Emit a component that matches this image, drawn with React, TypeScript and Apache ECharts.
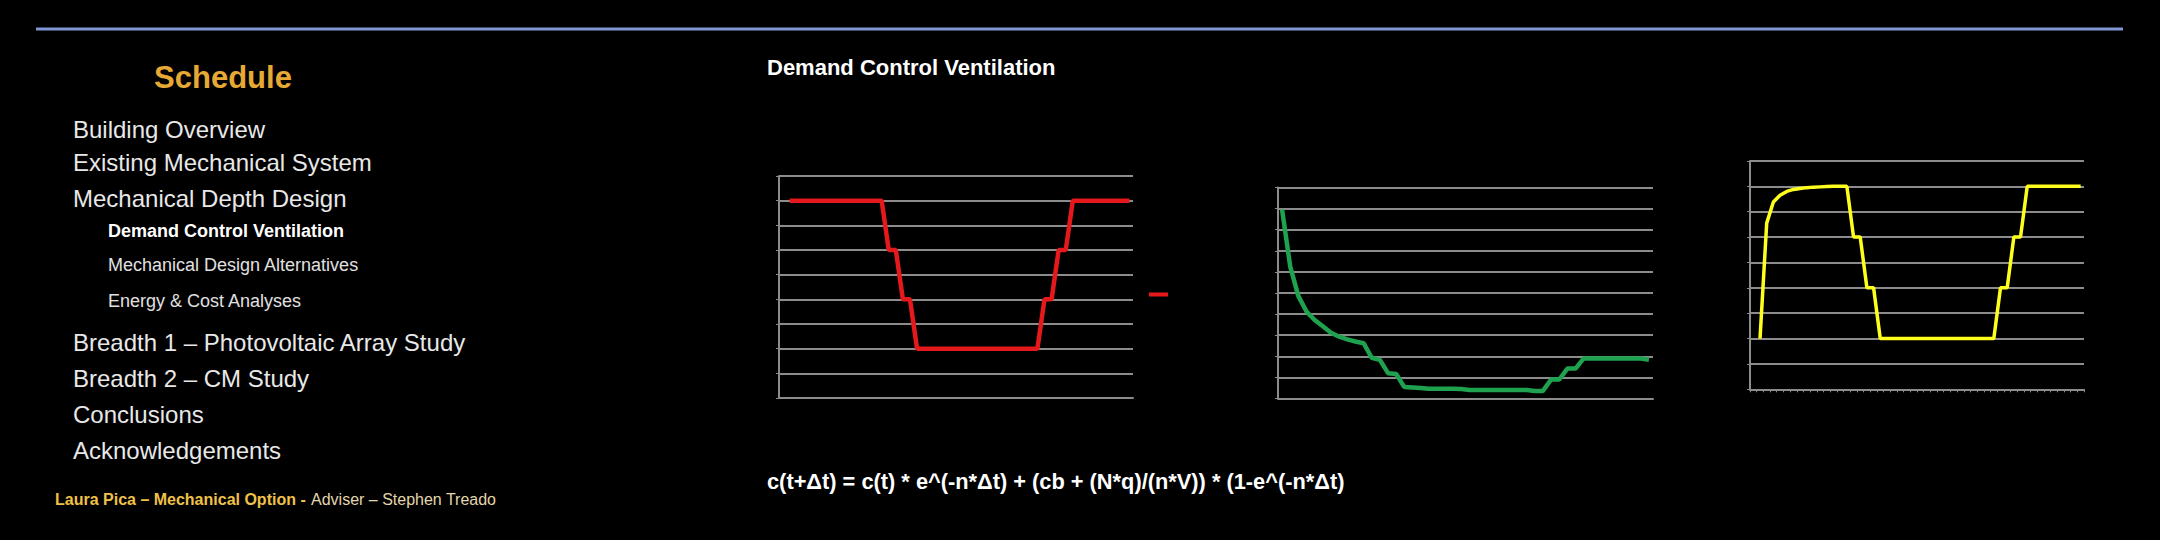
import React, { useEffect, useRef } from "react";
import * as echarts from "echarts";

// ---------- data ----------
// 50 time slots for the schedule charts (first slot is empty in the source chart)
const scheduleSlots: string[] = [
  "", "1", "2", "3", "4", "5", "6", "7", "8", "9", "10", "11", "12", "13", "14", "15", "16", "17", "18", "19",
  "20", "21", "22", "23", "24", "25", "26", "27", "28", "29", "30", "31", "32", "33", "34", "35", "36", "37", "38", "39",
  "40", "41", "42", "43", "44", "45", "46", "47", "48", "49",
];
// occupancy schedule (red)
const occupancy: (number | string)[] = [
  "-",
  8, 8, 8, 8, 8, 8, 8, 8, 8, 8, 8, 8, 8, 8,
  6, 6, 4, 4,
  2, 2, 2, 2, 2, 2, 2, 2, 2, 2, 2, 2, 2, 2, 2, 2, 2, 2,
  4, 4, 6, 6,
  8, 8, 8, 8, 8, 8, 8, 8, 8,
];
// CO2 concentration response (green), 46 slots
const co2Slots: string[] = [
  "1", "2", "3", "4", "5", "6", "7", "8", "9", "10", "11", "12", "13", "14", "15", "16", "17", "18", "19", "20",
  "21", "22", "23", "24", "25", "26", "27", "28", "29", "30", "31", "32", "33", "34", "35", "36", "37", "38", "39", "40",
  "41", "42", "43", "44", "45", "46",
];
const co2: number[] = [
  8.96, 6.25, 4.85, 4.12, 3.72, 3.42, 3.12, 2.93, 2.8, 2.7, 2.62, 1.93, 1.83, 1.2, 1.16, 0.54,
  0.52, 0.5, 0.46, 0.46, 0.46, 0.46, 0.45, 0.4, 0.4, 0.4, 0.4, 0.4, 0.4, 0.4, 0.4, 0.36, 0.36,
  0.9, 0.9, 1.42, 1.42, 1.9, 1.9, 1.9, 1.9, 1.9, 1.9, 1.9, 1.9, 1.84,
];
// ventilation rate (yellow)
const ventilation: (number | string)[] = [
  "-",
  2, 6.55, 7.38, 7.65, 7.8, 7.88, 7.92, 7.95, 7.97, 7.98, 7.99, 8, 8, 8,
  6, 6, 4, 4,
  2, 2, 2, 2, 2, 2, 2, 2, 2, 2, 2, 2, 2, 2, 2, 2, 2, 2,
  4, 4, 6, 6,
  8, 8, 8, 8, 8, 8, 8, 8, 8,
];

const menuMain1 = ["Building Overview", "Existing Mechanical System", "Mechanical Depth Design"];
const menuSub = ["Demand Control Ventilation", "Mechanical Design Alternatives", "Energy & Cost Analyses"];
const menuMain2 = ["Breadth 1 – Photovoltaic Array Study", "Breadth 2 – CM Study", "Conclusions", "Acknowledgements"];
const slideTitle = "Schedule";
const chartTitle = "Demand Control Ventilation";
const formula = "c(t+\u0394t) = c(t) * e^(-n*\u0394t) + (cb + (N*q)/(n*V)) * (1-e^(-n*\u0394t)";
const footerBold = "Laura Pica – Mechanical Option - ";
const footerLight = "Adviser – Stephen Treado";

const FONT = '"Liberation Sans", Arial, sans-serif';
const GRID_COLOR = "#8c8c8c";

function makeXAxis(gridIndex: number, data: string[], ticks: boolean) {
  return {
    type: "category",
    gridIndex,
    data,
    boundaryGap: true,
    axisLine: { show: true, lineStyle: { color: GRID_COLOR, width: 2 } },
    axisTick: { show: ticks, interval: 0, length: 3, lineStyle: { color: GRID_COLOR, width: 1 } },
    axisLabel: { show: false },
    splitLine: { show: false },
  };
}
function makeYAxis(gridIndex: number, max: number) {
  return {
    type: "value",
    gridIndex,
    min: 0,
    max,
    interval: 1,
    axisLine: { show: true, lineStyle: { color: GRID_COLOR, width: 2 } },
    axisTick: { show: true, length: 3, lineStyle: { color: GRID_COLOR, width: 1 } },
    axisLabel: { show: false },
    splitLine: { show: true, lineStyle: { color: GRID_COLOR, width: 2 } },
  };
}

export default function App() {
  const ref = useRef<HTMLDivElement>(null);
  useEffect(() => {
    document.body.style.margin = "0";
    document.body.style.background = "#000";
    document.body.style.overflow = "hidden";
    const chart = echarts.init(ref.current!, undefined, { renderer: "svg" });

    const graphics: any[] = [
      { type: "rect", shape: { x: 36, y: 27.5, width: 2087, height: 3 }, style: { fill: "#8197d3" } },
      {
        type: "text", x: 223, y: 77,
        style: { text: slideTitle, fill: "#e6a934", font: `bold 31px ${FONT}`, textAlign: "center", textVerticalAlign: "middle" },
      },
      {
        type: "text", x: 767, y: 67.5,
        style: { text: chartTitle, fill: "#ffffff", font: `bold 22px ${FONT}`, textAlign: "left", textVerticalAlign: "middle" },
      },
      {
        type: "text", x: 767, y: 481,
        style: { text: formula, fill: "#ffffff", font: `bold 21.8px ${FONT}`, textAlign: "left", textVerticalAlign: "middle" },
      },
      { type: "rect", shape: { x: 1149, y: 292.5, width: 19, height: 4 }, style: { fill: "#e5191b" } },
    ];
    const mainY1 = [129.5, 162.5, 198.5];
    menuMain1.forEach((t, i) =>
      graphics.push({
        type: "text", x: 73, y: mainY1[i],
        style: { text: t, fill: "#e8e8e8", font: `24px ${FONT}`, textVerticalAlign: "middle" },
      })
    );
    const subY = [231, 265, 301];
    menuSub.forEach((t, i) =>
      graphics.push({
        type: "text", x: 108, y: subY[i],
        style: {
          text: t,
          fill: i === 0 ? "#ffffff" : "#e0e0e0",
          font: `${i === 0 ? "bold " : ""}18px ${FONT}`,
          textVerticalAlign: "middle",
        },
      })
    );
    const mainY2 = [342.5, 378.5, 414.5, 450.5];
    menuMain2.forEach((t, i) =>
      graphics.push({
        type: "text", x: 73, y: mainY2[i],
        style: { text: t, fill: "#e8e8e8", font: `24px ${FONT}`, textVerticalAlign: "middle" },
      })
    );
    graphics.push({
      type: "text", x: 55, y: 499,
      style: { text: footerBold, fill: "#f0c048", font: `bold 16px ${FONT}`, textVerticalAlign: "middle" },
    });
    graphics.push({
      type: "text", x: 311, y: 499,
      style: { text: footerLight, fill: "#e2d6ac", font: `16px ${FONT}`, textVerticalAlign: "middle" },
    });

    chart.setOption({
      animation: false,
      backgroundColor: "#000000",
      grid: [
        { left: 779, top: 176, width: 354, height: 222 },
        { left: 1278, top: 187.5, width: 375, height: 211 },
        { left: 1750, top: 161, width: 334, height: 228.3 },
      ],
      xAxis: [
        makeXAxis(0, scheduleSlots, false),
        makeXAxis(1, co2Slots, false),
        makeXAxis(2, scheduleSlots, true),
      ],
      yAxis: [makeYAxis(0, 9), makeYAxis(1, 10), makeYAxis(2, 9)],
      series: [
        {
          type: "line", xAxisIndex: 0, yAxisIndex: 0, data: occupancy, showSymbol: false,
          lineStyle: { color: "#e5191b", width: 4.5 }, itemStyle: { color: "#e5191b" },
        },
        {
          type: "line", xAxisIndex: 1, yAxisIndex: 1, data: co2, showSymbol: false,
          lineStyle: { color: "#1fa24f", width: 4.5 }, itemStyle: { color: "#1fa24f" },
        },
        {
          type: "line", xAxisIndex: 2, yAxisIndex: 2, data: ventilation, showSymbol: false,
          lineStyle: { color: "#ffff1e", width: 3.5 }, itemStyle: { color: "#ffff1e" },
        },
      ],
      graphic: graphics,
    });
    return () => chart.dispose();
  }, []);
  return <div ref={ref} style={{ width: 2160, height: 540, background: "#000" }} />;
}
